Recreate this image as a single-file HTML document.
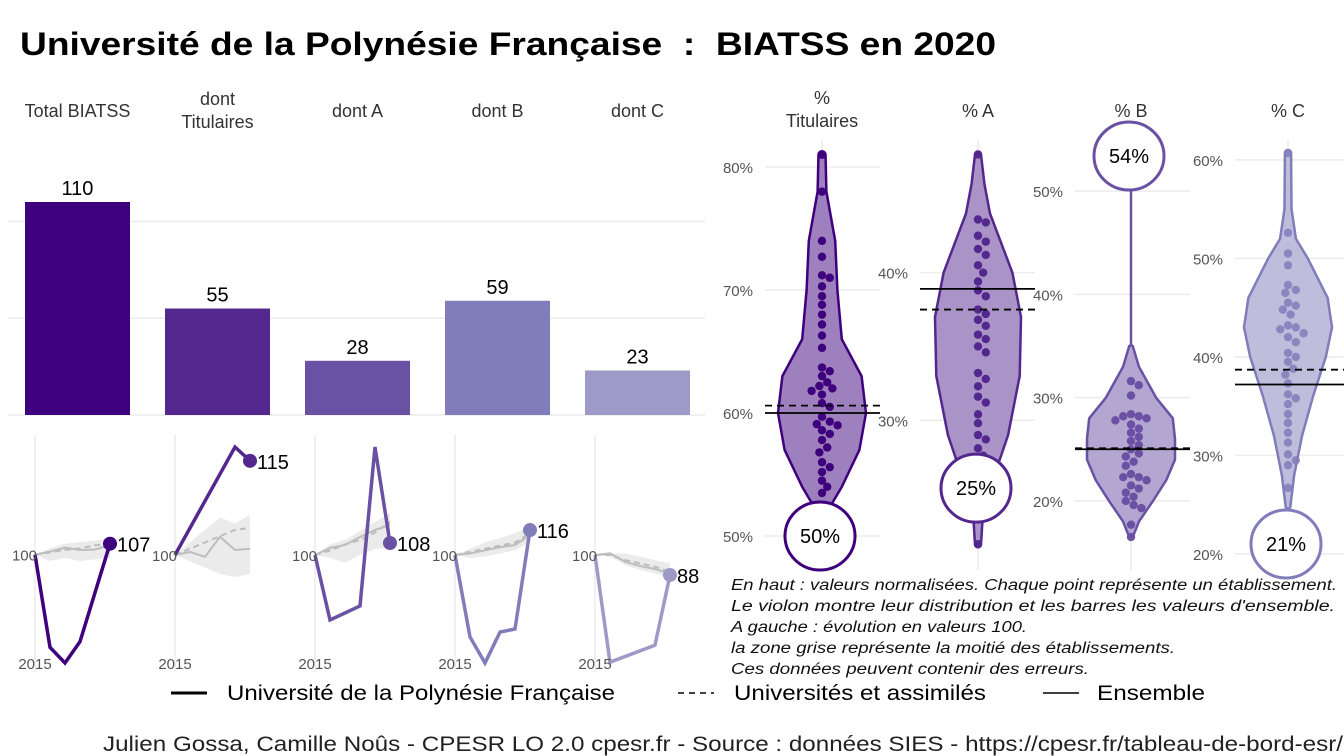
<!DOCTYPE html>
<html><head><meta charset="utf-8"><style>
html,body{margin:0;padding:0;background:#fff;}
svg{display:block;font-family:"Liberation Sans",sans-serif;}
</style></head><body>
<svg id="c" width="1344" height="756" viewBox="0 0 1344 756" xmlns="http://www.w3.org/2000/svg">
<text x="20" y="55" font-size="32" font-weight="bold" fill="#000" textLength="976" lengthAdjust="spacingAndGlyphs">Université de la Polynésie Française&#160; :&#160; BIATSS en 2020</text>
<g id="bars"></g>
<g id="sparks"></g>
<g id="violins"></g>
<g font-size="15.5" font-style="italic" fill="#111">
<text x="731" y="590" textLength="606" lengthAdjust="spacingAndGlyphs">En haut : valeurs normalisées. Chaque point représente un établissement.</text>
<text x="731" y="611" textLength="604" lengthAdjust="spacingAndGlyphs">Le violon montre leur distribution et les barres les valeurs d'ensemble.</text>
<text x="731" y="632" textLength="296" lengthAdjust="spacingAndGlyphs">A gauche : évolution en valeurs 100.</text>
<text x="731" y="653" textLength="444" lengthAdjust="spacingAndGlyphs">la zone grise représente la moitié des établissements.</text>
<text x="731" y="674" textLength="358" lengthAdjust="spacingAndGlyphs">Ces données peuvent contenir des erreurs.</text>
</g>
<g font-size="21" fill="#000">
<line x1="171" y1="693" x2="207" y2="693" stroke="#000" stroke-width="3"/>
<text x="227" y="700" textLength="388" lengthAdjust="spacingAndGlyphs">Université de la Polynésie Française</text>
<line x1="678" y1="693" x2="714" y2="693" stroke="#000" stroke-width="1.5" stroke-dasharray="6,5"/>
<text x="734" y="700" textLength="252" lengthAdjust="spacingAndGlyphs">Universités et assimilés</text>
<line x1="1043" y1="693" x2="1079" y2="693" stroke="#000" stroke-width="1.5"/>
<text x="1097" y="700" textLength="108" lengthAdjust="spacingAndGlyphs">Ensemble</text>
</g>
<text x="103" y="751" font-size="21" fill="#222" textLength="1240" lengthAdjust="spacingAndGlyphs">Julien Gossa, Camille Noûs - CPESR LO 2.0 cpesr.fr - Source : données SIES - https://cpesr.fr/tableau-de-bord-esr/</text>
</svg>
<script>
const NS="http://www.w3.org/2000/svg";
function mk(p,tag,at){const e=document.createElementNS(NS,tag);for(const k in at)e.setAttribute(k,at[k]);p.appendChild(e);return e;}

// ---- bar data ----
const barCats=["Total BIATSS","dont\nTitulaires","dont A","dont B","dont C"];
const barValues=[110,55,28,59,23];
const barColors=["#3f007d","#54278f","#6a51a3","#807dba","#9e9ac8"];
const barTicks=[0,50,100];

// ---- sparkline data (index 100) ----
const sparkYears=[2015,2016,2017,2018,2019,2020];
const univYears=[[2015,2016,2017,2018,2020],[2015,2019,2020],[2015,2016,2018,2019,2020],[2015,2016,2017,2018,2019,2020],[2015,2016,2019,2020]];
const univValues=[[100,41,31,44.6,107],[100,117.2,115],[100,56.7,66,172,108],[100,47.5,30.8,50.6,52.6,116],[100,35.8,46,88]];
const ensValues=[[100,102,104.5,103,103.3,106],[100,100.5,99.7,102.9,100.8,101],[100,104.7,106.7,112,116.7,120],[100,101,103,105,106.4,112.8],[100,101,96,93.4,91.6,89]];
const uniValues=[[100,101.5,103,104,106,107],[100,101,102,103,104,104.3],[100,103,107,110,115,122],[100,102,104,106,108,114],[100,100,97,95,93,90]];
const bandLo=[[100,96,98,96,97,98],[100,99,98,97,96.5,97],[100,98,95,100,104,105],[100,98,99,101,103,108],[100,99,94,91,89,86]];
const bandHi=[[100,104,107,108,109,110],[100,102,104,106,105,106.4],[100,107,110,116,122,128],[100,104,108,111,114,118],[100,101,101,99,97,95]];
const sparkDomains=[[31,168.6],[82.8,117.2],[28,172],[30.8,169.2],[35.3,164.7]];
const sparkLabels=["107","115","108","116","88"];

// ---- violin data ----
const vTitles=[["%","Titulaires"],["% A"],["% B"],["% C"]];
const vColors=["#3f007d","#54278f","#6a51a3","#807dba"];
const vFills=["#9f80be","#a993c7","#b3a6d0","#bfbddc"];
const vTicks=[[50,60,70,80],[30,40],[20,30,40,50],[20,30,40,50,60]];
const vDomains=[[49.27,80.98],[21.55,47.97],[15.73,53.5],[20.9,60.5]];
const vPoints=[
[81,78,74,72.7,71.2,71,70.3,69.5,68.8,68,67.2,66.3,65.3,63.7,63.4,63,62.5,62.2,62,61.8,61.5,60.8,60.5,59.7,59.3,59,59.1,58.6,58.3,57.8,57.2,56.8,56,55.6,55.2,54.5,54,53.5],
[48,43.6,43.4,42.5,42.1,41.6,41.2,40.5,40.0,39.4,38.8,38.4,37.5,37.2,36.8,36.4,35.8,35.5,35.0,34.6,33.2,32.8,32.3,31.6,31.2,30.4,29.8,29.0,28.7,28.1,27.6,21.6],
[31.6,31.2,30.2,28.4,28.2,28.2,28.0,27.8,27.4,27.0,26.6,26.2,25.8,25.4,25.0,24.6,24.3,23.8,23.4,22.6,22.3,22.3,22.0,21.5,21.2,20.8,20.4,20.0,19.6,19.3,17.7,16.5],
[60.7,52.6,50.5,49.3,47.3,46.8,46.5,45.5,45.2,44.8,44.3,43.2,43.0,42.8,42.4,42.0,41.5,40.4,40.0,39.5,38.8,38.2,37.3,36.2,35.8,35.2,34.2,33.3,32.3,31.3,30.1,29.5,29.0,26.7]];
const vDensLevels=[
[81,78,74,70,66,63,60,57,54,52,51.5],
[48,46,44,40,37,33,29,26,23,21.6],
[35,33,30,28,26,24,22,20,18,16.5],
[60.7,55,52,50,46,43,40,36,32,28,24.7]];
const vDensities=[
[0.08,0.1,0.3,0.35,0.45,0.9,1,0.85,0.45,0.12,0.05],
[0.07,0.15,0.28,0.8,1,0.97,0.7,0.35,0.1,0.07],
[0.04,0.18,0.57,0.95,1,1,0.8,0.5,0.18,0.04],
[0.07,0.08,0.18,0.45,0.9,1,0.86,0.57,0.32,0.14,0.05]];
const vHighlight=[50,25.4,53.4,21];
const vHighlightLabels=["50%","25%","54%","21%"];
const vEnsemble=[60,38.9,25,37.2];
const vUniversites=[60.6,37.5,25.1,38.7];

// ===== bars =====
const gb=document.getElementById('bars');
const bBase=415,bPpu=213/110,bW=105;
const bx=i=>25+i*140;
const by=v=>bBase-v*bPpu;
barTicks.forEach(t=>{const l=mk(gb,'line',{x1:8,x2:705,y1:by(t),y2:by(t),stroke:'#ebebeb','stroke-width':1.5});

});
barCats.forEach((c,i)=>{
 const lines=c.split("\n");const cx=bx(i)+bW/2;
 lines.forEach((ln,j)=>{const t=mk(gb,'text',{x:cx,y:(lines.length>1?105:117)+j*23,'text-anchor':'middle','font-size':18,fill:'#333'});t.textContent=ln;
 
 });
 const r=mk(gb,'rect',{x:bx(i),y:by(barValues[i]),width:bW,height:barValues[i]*bPpu,fill:barColors[i]});
 
 
 const v=mk(gb,'text',{x:cx,y:by(barValues[i])-7,'text-anchor':'middle','font-size':20,fill:'#000'});v.textContent=barValues[i];
 
 
});

// ===== sparklines =====
const gs=document.getElementById('sparks');
const sTop=447,sBot=663,sStep=15;
for(let p=0;p<5;p++){
 const x0=35+p*140;
 const sx=y=>x0+(y-2015)*sStep;
 const d=sparkDomains[p];
 const sy=v=>sBot-(v-d[0])/(d[1]-d[0])*(sBot-sTop);
 const g=mk(gs,'g',{});
 
 
 const gl=mk(g,'line',{x1:x0,x2:x0,y1:435,y2:672,stroke:'#ebebeb','stroke-width':1.5});
 
 
 let pts=sparkYears.map((y,i)=>sx(y)+','+sy(bandHi[p][i]));
 pts=pts.concat(sparkYears.slice().reverse().map((y,k)=>{const i=sparkYears.length-1-k;return sx(y)+','+sy(bandLo[p][i]);}));
 const band=mk(g,'polygon',{points:pts.join(' '),fill:'#ebebeb'});
 
 
 const ens=mk(g,'polyline',{points:sparkYears.map((y,i)=>sx(y)+','+sy(ensValues[p][i])).join(' '),fill:'none',stroke:'#bdbdbd','stroke-width':2});
 
 
 const uni=mk(g,'polyline',{points:sparkYears.map((y,i)=>sx(y)+','+sy(uniValues[p][i])).join(' '),fill:'none',stroke:'#bdbdbd','stroke-width':2,'stroke-dasharray':'6,4'});
 
 
 const uy=univYears[p],uv=univValues[p];
 const ln=mk(g,'polyline',{points:uy.map((y,i)=>sx(y)+','+sy(uv[i])).join(' '),fill:'none',stroke:barColors[p],'stroke-width':3.5,'stroke-linejoin':'miter'});
 
 
 const lx=sx(uy[uy.length-1]),ly=sy(uv[uv.length-1]);
 const dot=mk(g,'circle',{cx:lx,cy:ly,r:7,fill:barColors[p]});
 
 
 const lt=mk(g,'text',{x:lx+7,y:ly+8,'font-size':20,fill:'#000'});lt.textContent=sparkLabels[p];
 
 
 const t100=mk(g,'text',{x:x0+2,y:sy(100)+6,'text-anchor':'end','font-size':15,fill:'#555'});t100.textContent='100';
 
 
 const ty=mk(g,'text',{x:x0,y:669,'text-anchor':'middle','font-size':15,fill:'#555'});ty.textContent='2015';
 
 
}

// ===== violins =====
const gv=document.getElementById('violins');
const vCx=[822,978,1131,1288];
const vGrid=[[765,880],[920,1035],[1075,1190],[1235,1344]];
const vMaxW=[44,43,44,44];
const vTop=155,vBot=545;
for(let k=0;k<4;k++){
 const d=vDomains[k],cx=vCx[k];
 const vy=v=>vBot-(v-d[0])/(d[1]-d[0])*(vBot-vTop);
 const g=mk(gv,'g',{});
 
 
 vTitles[k].forEach((s,j)=>{const t=mk(g,'text',{x:cx,y:(vTitles[k].length>1?104:117)+j*23,'text-anchor':'middle','font-size':18,fill:'#333'});t.textContent=s;
 
 });
 const vl=mk(g,'line',{x1:cx,x2:cx,y1:140,y2:570,stroke:'#ebebeb','stroke-width':1.5});
 
 
 vTicks[k].forEach(t=>{const y=vy(t);
  const l=mk(g,'line',{x1:vGrid[k][0],x2:vGrid[k][1],y1:y,y2:y,stroke:'#ebebeb','stroke-width':1.5});
  
  
  const tx=mk(g,'text',{x:vGrid[k][0]-12,y:y+6,'text-anchor':'end','font-size':15,fill:'#555'});tx.textContent=t+'%';
  
  
 });
 const lv=vDensLevels[k],dn=vDensities[k];
 if(k===2){const st=mk(g,'line',{x1:cx,x2:cx,y1:vy(vHighlight[k]),y2:vy(lv[0]),stroke:vColors[k],'stroke-width':2.5});
 
 }
 let path='';
 lv.forEach((v,i)=>{path+=(i?'L':'M')+(cx+dn[i]*vMaxW[k])+','+vy(v);});
 path+='A3,3 0 0 1 '+(cx-dn[dn.length-1]*vMaxW[k])+','+vy(lv[lv.length-1]);
 for(let i=lv.length-1;i>=0;i--)path+='L'+(cx-dn[i]*vMaxW[k])+','+vy(lv[i]);
 path+='A3,3 0 0 1 '+(cx+dn[0]*vMaxW[k])+','+vy(lv[0])+'Z';
 const vp=mk(g,'path',{d:path,fill:vFills[k],stroke:vColors[k],'stroke-width':2.5,'stroke-linejoin':'round'});
 
 
 const placed=[];const r=4.2;
 vPoints[k].slice().sort((a,b)=>b-a).forEach(v=>{
  const y=vy(v);let off=0;
  for(let s=0;s<30;s++){off=(s%2?1:-1)*Math.ceil(s/2)*2.6;
   if(!placed.some(q=>Math.hypot(q[0]-off,q[1]-y)<2*r*0.95))break;}
  placed.push([off,y]);
  const c=mk(g,'circle',{cx:cx+off,cy:y,r:r,fill:vColors[k],opacity:k===3?0.85:1});
  
  
 });
 const y1=vy(vEnsemble[k]),y2=vy(vUniversites[k]);
 const e1=mk(g,'line',{x1:vGrid[k][0],x2:vGrid[k][1],y1:y1,y2:y1,stroke:'#000','stroke-width':1.8});
 
 
 const e2=mk(g,'line',{x1:vGrid[k][0],x2:vGrid[k][1],y1:y2,y2:y2,stroke:'#000','stroke-width':1.8,'stroke-dasharray':'7,5'});
 
 
 const hy=vy(vHighlight[k]);
 const el=mk(g,'ellipse',{cx:cx-2,cy:hy,rx:35,ry:34,fill:'#fff',stroke:vColors[k],'stroke-width':3});
 
 
 const ht=mk(g,'text',{x:cx-2,y:hy+7,'text-anchor':'middle','font-size':20,fill:'#000'});ht.textContent=vHighlightLabels[k];
 
 
}
</script>
</body></html>
